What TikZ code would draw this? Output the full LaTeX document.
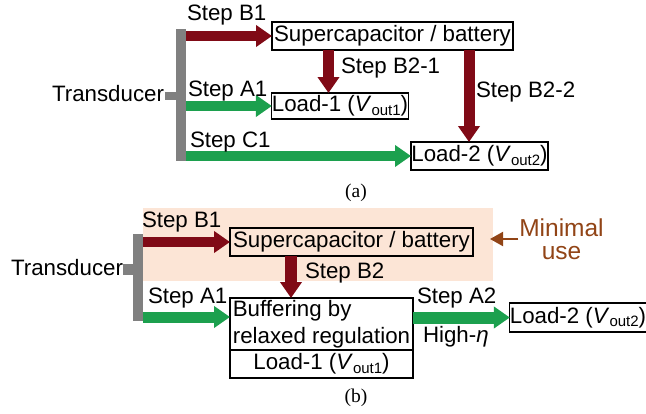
\documentclass[tikz,border=0pt]{standalone}
\usepackage{fontspec}
\setmainfont{Liberation Sans}
\newfontfamily\capfont{Liberation Serif}
\usetikzlibrary{arrows.meta}
\definecolor{dred}{RGB}{128,10,22}
\definecolor{dgreen}{RGB}{28,160,78}
\definecolor{bargray}{RGB}{128,128,128}
\definecolor{peach}{RGB}{252,229,214}
\definecolor{brownc}{RGB}{145,68,22}
\newcommand\Vo[1]{\textit{V}\raisebox{-0.3ex}{\fontsize{15}{15}\selectfont #1}}
\begin{document}
\begin{tikzpicture}[x=1pt,y=-1pt,
  every node/.style={inner sep=0pt, outer sep=0pt, font=\fontsize{22.3}{25}\selectfont},
  box/.style={draw=black, line width=1.2pt},
  lbl/.style={anchor=base west},
  redarrow/.style={draw=dred, line width=10pt, -{Triangle[length=16pt,width=21pt]}},
  greenarrow/.style={draw=dgreen, line width=10pt, -{Triangle[length=16pt,width=21pt]}},
  graybar/.style={fill=bargray, draw=none},
  capt/.style={anchor=base, font=\capfont\fontsize{19.5}{22}\selectfont},
]
\useasboundingbox (0,0) rectangle (646,413);
% ---------------- (a) ----------------
\node[graybar, minimum width=10pt, minimum height=132pt] (barA) at (181,95) {};
\node[graybar, minimum width=11pt, minimum height=8pt] (stubA) at (170.5,96) {};
\node[anchor=base east] (transA) at (164,101) {Transducer};

\node[box, minimum width=241pt, minimum height=28pt] (scA) at (392.5,36) {Supercapacitor / battery};
\node[box, minimum width=136pt, minimum height=26pt] (load1A) at (340,106) {Load-1 (\Vo{out1})};
\node[box, minimum width=137pt, minimum height=28pt] (load2A) at (479.5,156) {Load-2 (\Vo{out2})};

\draw[redarrow] (barA.east |- scA.west) -- (scA.west);
\draw[greenarrow] (barA.east |- load1A.west) -- (load1A.west);
\draw[greenarrow] (barA.east |- load2A.west) -- (load2A.west);

\coordinate (xb21) at (328.5,0);
\coordinate (xb22) at (469,0);
\draw[redarrow, line width=11pt] (scA.south -| xb21) -- (load1A.north -| xb21);
\draw[redarrow, line width=11pt] (scA.south -| xb22) -- (load2A.north -| xb22);

\node[lbl] (lB1a) at (187,20) {Step B1};
\node[lbl] (lA1a) at (188,96) {Step A1};
\node[lbl] (lC1a) at (190,147) {Step C1};
\node[lbl] (lB21) at (341,73) {Step B2-1};
\node[lbl] (lB22) at (476,97) {Step B2-2};
\node[capt] (capA) at (356,197) {(a)};

% ---------------- (b) ----------------
\fill[peach] (143,208) rectangle (493,281);
\node[graybar, minimum width=10pt, minimum height=87pt] (barB) at (138,277.5) {};
\node[graybar, minimum width=10pt, minimum height=11pt] (stubB) at (128,269) {};
\node[anchor=base east] (transB) at (123,275) {Transducer};

\node[box, minimum width=243pt, minimum height=28pt] (scB) at (351.5,242) {Supercapacitor / battery};
\node[box, anchor=north west, minimum width=183pt, minimum height=52pt, align=left,
      font=\fontsize{22.3}{27}\selectfont] (buf) at (230,298) {Buffering by\\relaxed regulation};
\node[box, minimum width=183pt, minimum height=28pt] (load1B) at (321.5,364) {Load-1 (\Vo{out1})};
\node[box, minimum width=134pt, minimum height=29pt] (load2B) at (578,317.5) {Load-2 (\Vo{out2})};

\coordinate (yA1b) at (0,317);
\coordinate (xB2) at (291,0);
\draw[redarrow] (barB.east |- scB.west) -- (scB.west);
\draw[greenarrow, line width=11pt] (barB.east |- yA1b) -- (buf.west |- yA1b);
\draw[redarrow, line width=12pt] (scB.south -| xB2) -- (buf.north -| xB2);
\draw[greenarrow, line width=12pt] (buf.east |- load2B.west) -- (load2B.west);

\node[lbl] (lB1b) at (142,227) {Step B1};
\node[lbl] (lA1b) at (148,303) {Step A1};
\node[lbl] (lB2b) at (305,278) {Step B2};
\node[lbl] (lA2b) at (417,303) {Step A2};
\node[lbl] (leta) at (423,342) {High-\textit{η}};

\node[align=center, text=brownc, font=\fontsize{24.5}{23}\selectfont] (minimal) at (561.5,239) {Minimal\\use};
\coordinate (minend) at (490,239);
\draw[brownc, line width=2pt, -{Triangle[length=13pt,width=14pt]}] (minimal.west) ++(-1,0) -- (minend);

\node[capt] (capB) at (356,402) {(b)};
\end{tikzpicture}
\end{document}
